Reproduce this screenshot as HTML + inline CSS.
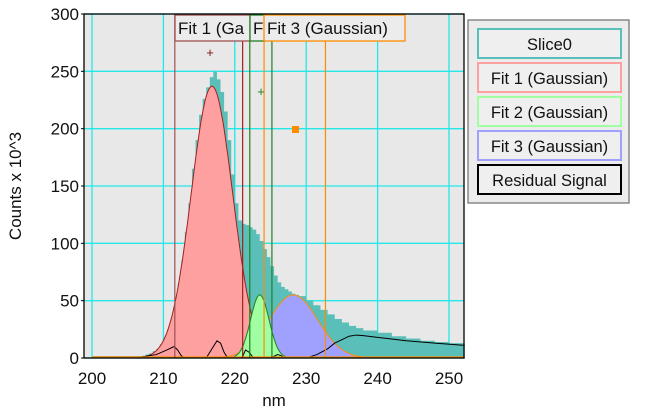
<!DOCTYPE html>
<html><head><meta charset="utf-8"><style>
body{margin:0;background:#fff;width:658px;height:411px;overflow:hidden;font-family:"Liberation Sans",sans-serif}
svg text{font-family:"Liberation Sans",sans-serif}
</style></head><body>
<svg id="c" width="658" height="411"></svg>
<script>
const xTicks=[200,210,220,230,240,250];
const yTicks=[0,50,100,150,200,250,300];
const sliceX=[200,206.5,207,207.5,208,208.5,209,209.5,210,210.5,211,211.5,212,212.5,213,213.5,214,214.5,215,215.5,216,216.5,217,217.5,218,218.5,219,219.5,220,220.5,221,221.5,222,222.5,223,223.5,224,224.5,225,225.5,226,226.5,227,227.5,228,228.5,229,230,231,232,233,234,235,236,237,238,240,242,244,246,248,250,252.2];
const sliceY=[1,1.5,2,3,4,6,8,12,18,25,35,48,65,85,110,135,165,190,212,226,236,245,250,243,232,215,190,160,135,120,117,116,114,112,108,102,95,88,80,72,66,62,60,58,56,55,54,50,46,42,38,34,31,28,26,24,22,19,17,15,14,13,12];
const fitCenters=[216.8,223.5,228.2];
const fitAmps=[237,55,55];
const fitSigmas=[2.9,1.3,3.4];
const resX=[200,207,209,210.5,211.5,212,212.5,213,216,217,217.5,218,218.5,219,221,221.5,222,222.5,223,225,226,226.5,227,230,231.5,233,234,235,236,237,238,240,244,248,252.2];
const resY=[1,1,3,7,10,7,2,0,0,10,15,13,5,0,0,7,5,1,0,0,3,2,0,0,3,8,13,16,19,20,19.5,18,15,13,11];
const fitLines=[[211.6,221.1],[222.1,225.2],[224.1,232.7]];
const L=84,R=464,T=14,B=358;
const sx=v=>92+(v-200)*7.14;
const sy=v=>B-v*(344/300);
const svg=document.getElementById('c');
const NS='http://www.w3.org/2000/svg';
function mk(t,a){const e=document.createElementNS(NS,t);for(const k in a)e.setAttribute(k,a[k]);svg.appendChild(e);return e;}
let e;
e=mk('rect',{x:L,y:T,width:R-L,height:B-T,fill:'#e8e8e8'});


xTicks.forEach(v=>{e=mk('line',{x1:sx(v),x2:sx(v),y1:T,y2:B,stroke:'#22e8e8','stroke-width':1.3});

});
yTicks.forEach(v=>{e=mk('line',{x1:L,x2:R,y1:sy(v),y2:sy(v),stroke:'#22e8e8','stroke-width':1.3});

});
let d='M'+sx(sliceX[0])+','+sy(0);
for(let i=0;i<sliceX.length;i++){const x0=sx(sliceX[i]);const x1=i<sliceX.length-1?sx(sliceX[i+1]):sx(sliceX[i]);d+=' L'+x0+','+sy(sliceY[i])+' L'+x1+','+sy(sliceY[i]);}
d+=' L'+sx(sliceX[sliceX.length-1])+','+sy(0)+'Z';
e=mk('path',{d:d,fill:'#5bbfb9'});


const fills=['#ffa0a0','#a0ffa0','#a0a0ff'];
const strokes=['#a02020','#208020','#ff8c00'];
const names=['fit1-curve','fit2-curve','fit3-curve'];
[0,2,1].forEach(k=>{let p='M'+sx(200)+','+sy(0);
for(let x=200;x<=252.2;x+=0.1){const y=fitAmps[k]*Math.exp(-((x-fitCenters[k])**2)/(2*fitSigmas[k]**2));p+=' L'+sx(x).toFixed(1)+','+sy(y).toFixed(1);}
p+=' L'+sx(252.2)+','+sy(0)+'Z';
e=mk('path',{d:p,fill:fills[k],stroke:strokes[k],'stroke-width':1});

});
let r='';resX.forEach((x,i)=>{r+=(i?' L':'M')+sx(x)+','+sy(resY[i]);});
e=mk('path',{d:r,fill:'none',stroke:'#000','stroke-width':1});


e=mk('line',{x1:sx(200),x2:R,y1:sy(0)-1,y2:sy(0)-1,stroke:'#ff8c00','stroke-width':1.2});


const lcol=['#a02020','#208020','#ff8c00'];
fitLines.forEach((pair,k)=>pair.forEach((v,j)=>{e=mk('line',{x1:sx(v),x2:sx(v),y1:T,y2:B,stroke:(k==0&&j==0)?'#a05050':lcol[k],'stroke-width':1.2});

}));
function box(x,y,w,h,stroke,txt,name){e=mk('rect',{x:x,y:y,width:w,height:h,fill:'#ececec',stroke:stroke,'stroke-width':1.3});


if(txt){const t=mk('text',{x:x+3,y:y+h-7,'font-size':17,fill:'#111'});t.textContent=txt;

}}
box(175,15,75,26,'#a05050','Fit 1 (Ga','fit1-label');
box(250,15,15,26,'#208020','Fi','fit2-label');
box(264,15,141,26,'#ff8c00','Fit 3 (Gaussian)','fit3-label');
e=mk('text',{x:210,y:57,'font-size':13,fill:'#801010','text-anchor':'middle'});e.textContent='+';


e=mk('text',{x:261,y:96,'font-size':13,fill:'#208020','text-anchor':'middle'});e.textContent='+';


e=mk('rect',{x:292,y:126,width:7,height:7,fill:'#ff8c00'});


e=mk('rect',{x:L,y:T,width:R-L,height:B-T,fill:'none',stroke:'#000','stroke-width':1.3});


xTicks.forEach(v=>{e=mk('text',{x:sx(v),y:384,'font-size':17,'text-anchor':'middle',fill:'#111'});e.textContent=v;

});
yTicks.forEach(v=>{e=mk('text',{x:79,y:sy(v)+6,'font-size':17,'text-anchor':'end',fill:'#111'});e.textContent=v;


e=mk('line',{x1:L-3,x2:L,y1:sy(v),y2:sy(v),stroke:'#000'});

});
e=mk('text',{x:274,y:406,'font-size':17,'text-anchor':'middle',fill:'#111'});e.textContent='nm';


e=mk('text',{x:0,y:0,'font-size':17,'text-anchor':'middle',fill:'#111',transform:'translate(21,186) rotate(-90)'});e.textContent='Counts x 10^3';


e=mk('rect',{x:468,y:20,width:161,height:183,fill:'#ececec',stroke:'#777','stroke-width':1.3});


const legNames=['Slice0','Fit 1 (Gaussian)','Fit 2 (Gaussian)','Fit 3 (Gaussian)','Residual Signal'];
const legCols=['#5bbfb9','#ffa0a0','#a0ffa0','#a0a0ff','#000'];
legNames.forEach((n,i)=>{const y=29+i*34;
e=mk('rect',{x:478,y:y,width:143,height:29,fill:'#efefef',stroke:legCols[i],'stroke-width':2});


const t=mk('text',{x:549.5,y:y+21,'font-size':16.5,'text-anchor':'middle',fill:'#111'});t.textContent=n;

});
</script>
</body></html>
